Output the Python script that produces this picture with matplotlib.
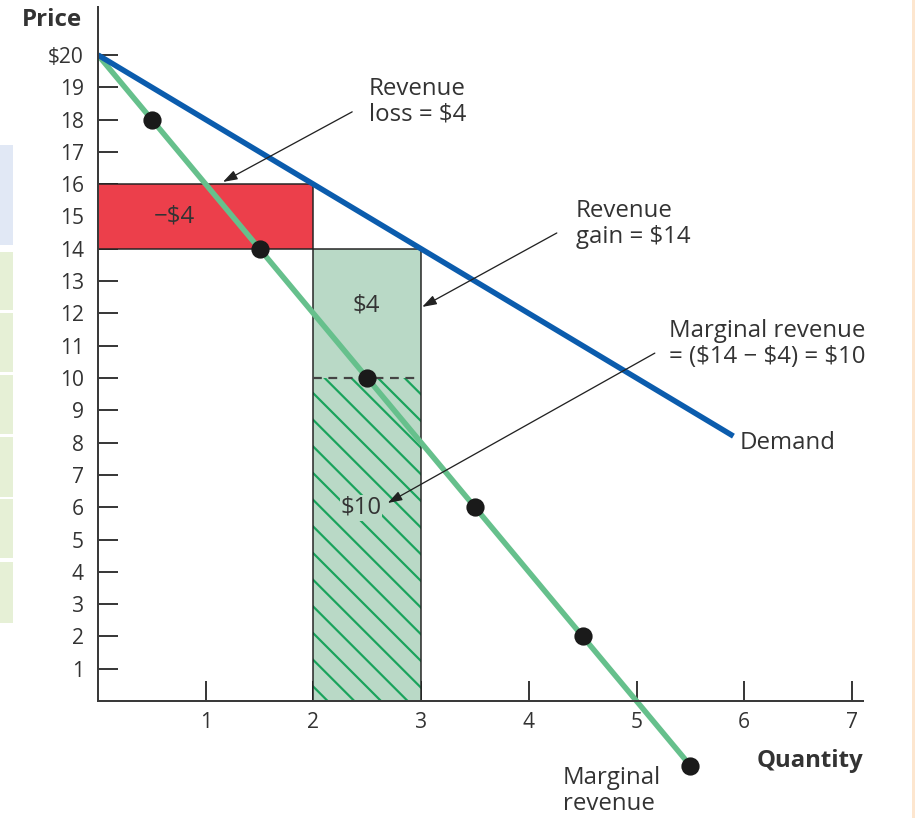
import numpy as np
import matplotlib
matplotlib.use("Agg")
from matplotlib import pyplot as plt
from matplotlib.patches import Rectangle

# values
demand_q = [0, 5.9]
demand_p = [20, 8.2]
mr_q = [0.5, 1.5, 2.5, 3.5, 4.5, 5.5]
mr_p = [18, 14, 10, 6, 2, -2]
y_ticks = list(range(1, 21))
y_labels = [str(v) for v in y_ticks[:-1]] + ['$20']
x_ticks = [1, 2, 3, 4, 5, 6, 7]

loss_q = [0, 2]       # red box: price 16 -> 14
loss_p = [14, 16]
gain_q = [2, 3]       # green box: 0 -> 14
gain_p = [0, 14]
mr_level = 10

DPI = 160
PX = 72 / DPI   # one pixel in points

plt.rcParams['font.family'] = ['Open Sans', 'DejaVu Sans']
plt.rcParams['hatch.linewidth'] = 2.2 * PX

BLUE = '#0b5cad'
GREEN = '#66c08c'
RED = '#ec3f4b'
FILL = '#b9d9c6'
HATCH = '#1aa35c'
INK = '#333333'
AX = '#3a3a3a'

fig = plt.figure(figsize=(915 / DPI, 818 / DPI), dpi=DPI)
ax = fig.add_axes([98 / 915, 0, 817 / 915, 1])
ax.set_xlim(0, 817 / 107.7)
ax.set_ylim(-(818 - 701) / 32.3, 20 + 55 / 32.3)

# table scraps at the edges of the page
fig.patches.append(Rectangle((0, 1 - 245 / 818), 13 / 915, 100 / 818, transform=fig.transFigure,
                             facecolor='#e1e8f5', edgecolor='none'))
for top, bot in [(252, 310), (313, 372), (375, 434), (437, 497), (499, 558), (562, 623)]:
    fig.patches.append(Rectangle((0, 1 - bot / 818), 13 / 915, (bot - top) / 818, transform=fig.transFigure,
                                 facecolor='#e6f0d6', edgecolor='none'))
fig.patches.append(Rectangle((912 / 915, 0), 3 / 915, 1, transform=fig.transFigure,
                             facecolor='#fde6cf', edgecolor='none'))

# spines as axis lines
for s in ['top', 'right']:
    ax.spines[s].set_visible(False)
ax.spines['bottom'].set_position(('data', 0))
ax.spines['bottom'].set_bounds(0, 7.1)
ax.spines['left'].set_bounds(0, 20 + 48 / 32.3)
for s in ['bottom', 'left']:
    ax.spines[s].set_color(AX)
    ax.spines[s].set_linewidth(2 * PX)
    ax.spines[s].set_zorder(6)

ax.set_yticks(y_ticks)
ax.set_yticklabels(y_labels)
ax.set_xticks(x_ticks)
ax.tick_params(axis='both', direction='in', length=20 * PX, width=2 * PX, color=AX,
               labelsize=21 * PX, labelcolor=INK)
ax.tick_params(axis='y', pad=14 * PX)
ax.tick_params(axis='x', pad=11 * PX)

# revenue boxes
ax.add_patch(Rectangle((loss_q[0], loss_p[0]), loss_q[1] - loss_q[0], loss_p[1] - loss_p[0],
                       facecolor=RED, edgecolor='#222222', linewidth=1.5 * PX, zorder=2))
ax.add_patch(Rectangle((gain_q[0], gain_p[0]), gain_q[1] - gain_q[0], gain_p[1] - gain_p[0],
                       facecolor=FILL, edgecolor='none', zorder=2))
ax.add_patch(Rectangle((gain_q[0], gain_p[0]), gain_q[1] - gain_q[0], mr_level - gain_p[0],
                       facecolor='none', edgecolor=HATCH, hatch='\\\\', linewidth=0, zorder=2.5))
ax.add_patch(Rectangle((gain_q[0], gain_p[0]), gain_q[1] - gain_q[0], gain_p[1] - gain_p[0],
                       facecolor='none', edgecolor='#222222', linewidth=1.5 * PX, zorder=2.6))
ax.plot(gain_q, [mr_level, mr_level], color='#444444', linestyle=(0, (4, 3)), linewidth=2.2 * PX, zorder=2.7)

# curves
ax.plot(demand_q, demand_p, color=BLUE, linewidth=5.5 * PX, solid_capstyle='butt', zorder=4)
ax.plot([0] + mr_q, [20] + mr_p, color=GREEN, linewidth=5.5 * PX, solid_capstyle='butt', zorder=3)
ax.plot(mr_q, mr_p, 'o', color='#1a1a1a', markersize=16 * PX, zorder=5, clip_on=False)

fs = 24 * PX
ax.text(0.71, 15.0, '\u2212$4', fontsize=fs, color=INK, ha='center', va='center', zorder=7)
ax.text(2.49, 12.23, '$4', fontsize=fs, color=INK, ha='center', va='center', zorder=7)
ax.text(2.44, 5.98, '$10', fontsize=fs, color=INK, ha='center', va='center', zorder=7,
        bbox=dict(facecolor=FILL, edgecolor='none', pad=0.3))

arrow = dict(arrowstyle='-|>,head_length=0.6,head_width=0.2', color='#222222',
             linewidth=1.3 * PX, mutation_scale=20 * PX, shrinkA=0, shrinkB=0)
ax.annotate('', xy=(1.16, 16.07), xytext=(2.36, 18.24), arrowprops=arrow, zorder=8)
ax.annotate('', xy=(3.01, 12.2), xytext=(4.26, 14.49), arrowprops=arrow, zorder=8)
ax.annotate('', xy=(2.69, 6.13), xytext=(5.17, 10.77), arrowprops=arrow, zorder=8)

def px_text(x, y, s, **kw):
    # place text by pixel position of the reference
    ax.text((x - 98) / 107.7, 20 - (y - 55) / 32.3, s, color=INK, fontsize=fs,
            linespacing=1.1, **kw)

px_text(369, 102, 'Revenue\nloss = $4', va='center')
px_text(576, 224, 'Revenue\ngain = $14', va='center')
px_text(669, 344, 'Marginal revenue\n= ($14 \u2212 $4) = $10', va='center')
px_text(740, 443, 'Demand', va='center')
px_text(563, 791, 'Marginal\nrevenue', va='center')
px_text(757, 761, 'Quantity', va='center', fontweight='bold')
px_text(52, 20, 'Price', va='center', ha='center', fontweight='bold')

fig.savefig('out.png', dpi=DPI)
